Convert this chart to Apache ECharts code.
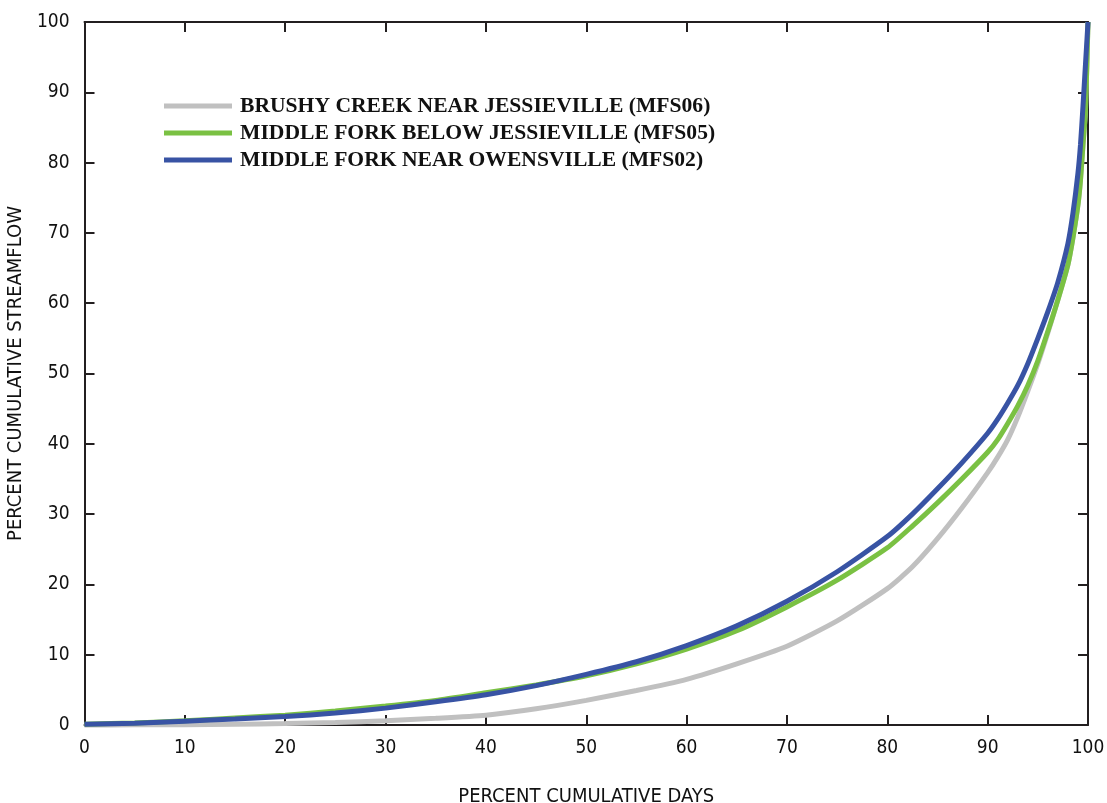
<!DOCTYPE html>
<html>
<head>
<meta charset="utf-8">
<script src="https://cdn.jsdelivr.net/npm/echarts@6/dist/echarts.min.js"></script>
<style>
html,body{margin:0;padding:0;background:#fff;}
#chart{width:1107px;height:803px;}
</style>
</head>
<body>
<div id="chart"></div>
<script>
// Percent cumulative days (x)
const xDays = [0,5,10,15,20,25,30,35,40,45,50,55,60,65,70,75,80,82.5,85,87.5,90,91,92,93,94,95,96,97,98,98.5,99,99.25,99.5,99.75,100];
// Percent cumulative streamflow (y) per site
const brushyMFS06 = [0,0.02,0.05,0.1,0.2,0.35,0.6,0.95,1.4,2.3,3.5,4.9,6.5,8.7,11.2,14.8,19.4,22.5,26.5,31.0,35.9,38.1,40.6,43.8,47.5,51.4,55.8,60.5,65.5,69.3,74,77.5,82.5,87.5,100];
const belowMFS05 = [0.1,0.3,0.6,1.0,1.4,2.0,2.7,3.5,4.6,5.7,7.0,8.7,10.8,13.4,16.8,20.6,25.2,28.3,31.6,35.1,38.8,40.6,42.9,45.4,48.3,51.8,56.0,60.5,65.5,69.3,74,77.5,82.5,87.5,100];
const nearMFS02 = [0.1,0.25,0.55,0.85,1.2,1.7,2.4,3.3,4.3,5.6,7.2,9.0,11.3,14.1,17.6,21.8,26.8,30.0,33.6,37.4,41.5,43.5,45.8,48.3,51.4,55.0,58.8,63.0,68.5,72.8,78.5,82.5,88,94,100];

const seriesNames = [
  'BRUSHY CREEK NEAR JESSIEVILLE (MFS06)',
  'MIDDLE FORK BELOW JESSIEVILLE (MFS05)',
  'MIDDLE FORK NEAR OWENSVILLE (MFS02)'
];
const seriesColors = ['#c0c0c0', '#7ac143', '#3853a4'];
const seriesValues = [brushyMFS06, belowMFS05, nearMFS02];

const axisFont = '"DejaVu Sans Condensed", "Liberation Sans Narrow", sans-serif';
const axisColor = '#231f20';

function pairs(ys){ return xDays.map((x,i)=>[x, ys[i]]); }

function makeAxis(extra){
  return Object.assign({
    type: 'value', min: 0, max: 100, interval: 10,
    axisLine: {show: true, onZero: false, lineStyle: {color: axisColor, width: 2}},
    axisTick: {show: true, inside: true, length: 10, lineStyle: {color: axisColor, width: 2}},
    splitLine: {show: false}
  }, extra);
}

const chart = echarts.init(document.getElementById('chart'), null, {renderer: 'canvas'});
chart.setOption({
  animation: false,
  backgroundColor: '#ffffff',
  grid: {left: 84.5, right: 19, top: 22, bottom: 78, containLabel: false, outerBoundsMode: 'none'},
  legend: {
    orient: 'vertical',
    left: 159, top: 90,
    icon: 'rect',
    itemWidth: 68, itemHeight: 5,
    itemGap: 5,
    data: seriesNames,
    textStyle: {
      fontFamily: '"Liberation Serif", "Times New Roman", serif',
      fontWeight: 'bold', fontSize: 21.6, color: '#111',
      padding: [0,0,0,3]
    }
  },
  xAxis: [
    makeAxis({
      position: 'bottom',
      name: 'PERCENT CUMULATIVE DAYS', nameLocation: 'middle', nameGap: 62,
      nameTextStyle: {fontFamily: axisFont, fontSize: 20, color: '#111'},
      axisLabel: {show: true, margin: 14, fontFamily: axisFont, fontSize: 19, color: '#111'}
    }),
    makeAxis({position: 'top', axisLabel: {show: false}})
  ],
  yAxis: [
    makeAxis({
      position: 'left',
      name: 'PERCENT CUMULATIVE STREAMFLOW', nameLocation: 'middle', nameGap: 58,
      nameTextStyle: {fontFamily: axisFont, fontSize: 20, color: '#111'},
      axisLabel: {show: true, margin: 15, fontFamily: axisFont, fontSize: 19, color: '#111'}
    }),
    makeAxis({position: 'right', axisLabel: {show: false}})
  ],
  series: seriesNames.map((name, i) => ({
    name: name,
    type: 'line',
    xAxisIndex: 0, yAxisIndex: 0,
    data: pairs(seriesValues[i]),
    showSymbol: false,
    symbol: 'none',
    smooth: 0.2,
    clip: false,
    z: 2 + i,
    lineStyle: {color: seriesColors[i], width: 5},
    itemStyle: {color: seriesColors[i]}
  }))
});
</script>
</body>
</html>
